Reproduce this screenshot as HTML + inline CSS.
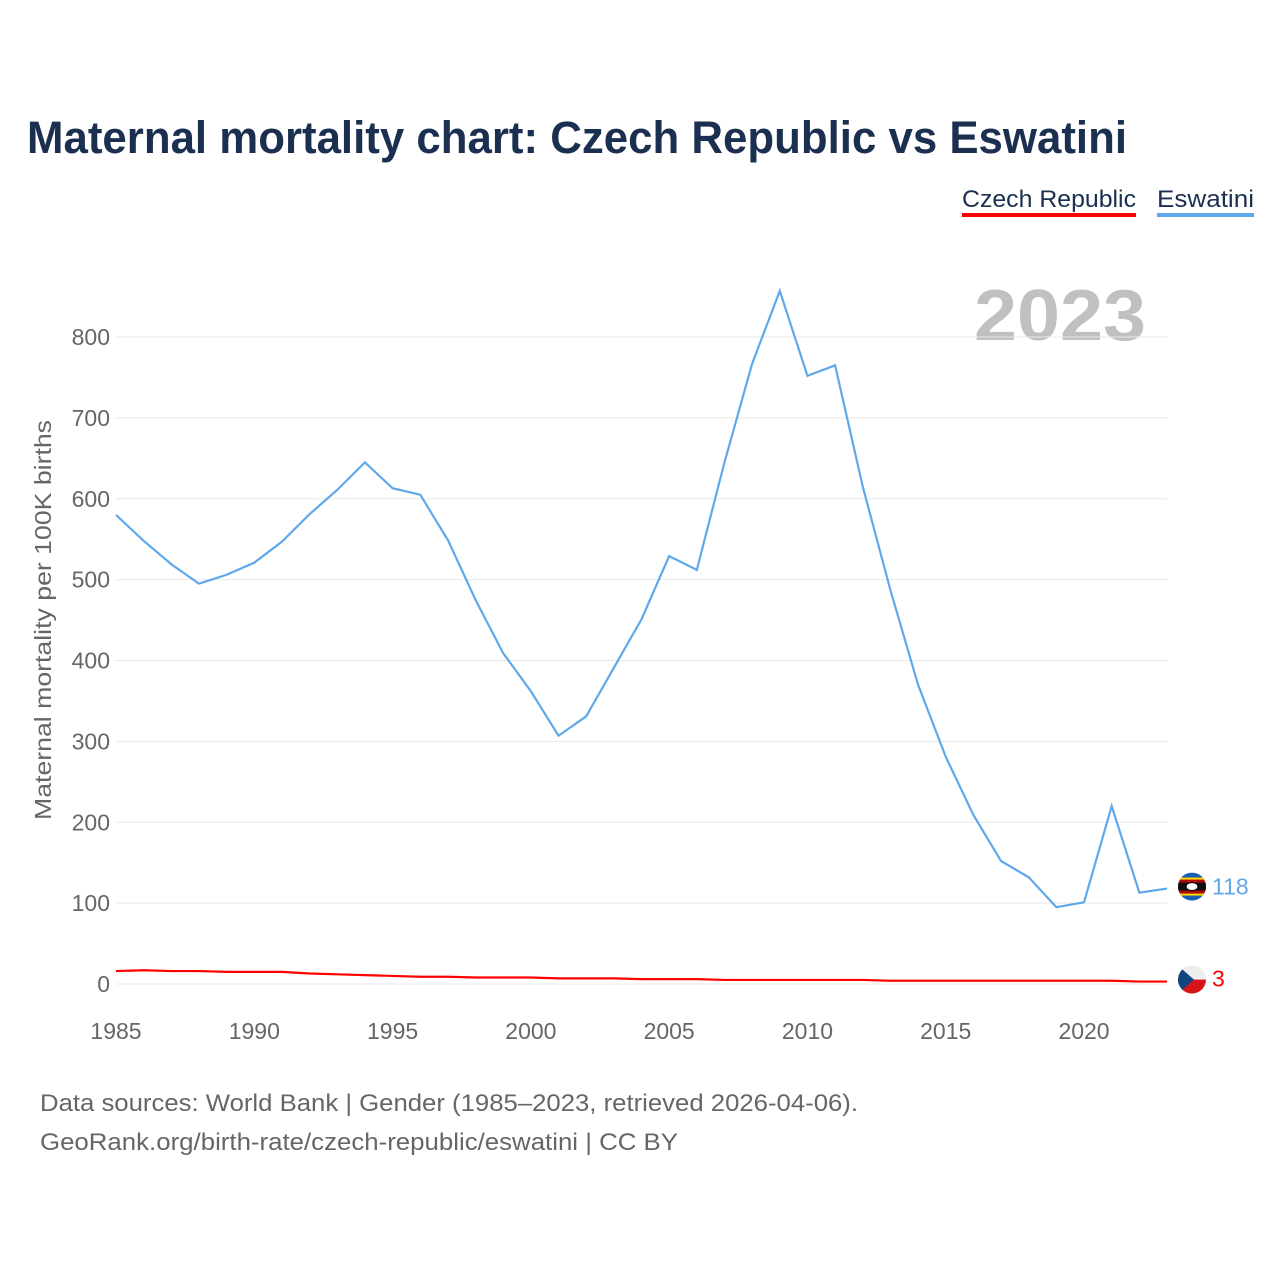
<!DOCTYPE html>
<html><head><meta charset="utf-8"><style>
body{margin:0;background:#fff;font-family:"Liberation Sans",sans-serif;}
#wrap{position:relative;width:1280px;height:1280px;overflow:hidden;}
</style></head><body>
<div id="wrap">
<svg id="chart" width="1280" height="1280">
<text x="27" y="153" font-size="45" font-weight="bold" fill="#1b3050" textLength="1100" lengthAdjust="spacingAndGlyphs">Maternal mortality chart: Czech Republic vs Eswatini</text>
<g><text x="962" y="207" font-size="24" fill="#1b3050" textLength="174" lengthAdjust="spacingAndGlyphs">Czech Republic</text><rect x="962" y="213" width="174" height="4" fill="#ff0000"/></g>
<g><text x="1157" y="207" font-size="24" fill="#1b3050" textLength="97" lengthAdjust="spacingAndGlyphs">Eswatini</text><rect x="1157" y="213" width="97" height="4" fill="#5fa8eb"/></g>
<text x="1146" y="340" font-size="72" font-weight="bold" fill="#c0c0c0" text-anchor="end" textLength="172" lengthAdjust="spacingAndGlyphs">2023</text>
<text transform="translate(51,620) rotate(-90)" font-size="23" fill="#666" text-anchor="middle" textLength="400" lengthAdjust="spacingAndGlyphs">Maternal mortality per 100K births</text>
<g id="grid"></g><g id="axes"></g><g id="series"></g>
<text x="40" y="1111" font-size="24" fill="#666" textLength="818" lengthAdjust="spacingAndGlyphs">Data sources: World Bank | Gender (1985–2023, retrieved 2026-04-06).</text>
<text x="40" y="1150" font-size="24" fill="#666" textLength="638" lengthAdjust="spacingAndGlyphs">GeoRank.org/birth-rate/czech-republic/eswatini | CC BY</text>
</svg></div>
<script>
const years=[];for(let y=1985;y<=2023;y++)years.push(y);
const eswatini=[580,548,519,495,506,521,547,581,611,645,613,605,549,475,409,362,307,331,391,451,529,512,645,767,857,752,765,615,487,370,281,209,152,132,95,101,220,113,118];
const czech=[16,17,16,16,15,15,15,13,12,11,10,9,9,8,8,8,7,7,7,6,6,6,5,5,5,5,5,5,4,4,4,4,4,4,4,4,4,3,3];
const yTicks=[0,100,200,300,400,500,600,700,800];
const xTicks=[1985,1990,1995,2000,2005,2010,2015,2020];
const NS="http://www.w3.org/2000/svg";
const X=y=>116+(y-1985)*(1167-116)/38;
const Y=v=>984-v*(984-337)/800;
function mk(t,a,p){const e=document.createElementNS(NS,t);for(const k in a)e.setAttribute(k,a[k]);p.appendChild(e);return e;}
const grid=document.getElementById('grid'),axes=document.getElementById('axes'),ser=document.getElementById('series');
yTicks.forEach(v=>{
 const l=mk('line',{x1:116,x2:1167,y1:Y(v),y2:Y(v),stroke:'#e8e8e8','stroke-width':1},grid);
 
 
 const t=mk('text',{x:110,y:Y(v)+8,'font-size':23,fill:'#666','text-anchor':'end'},axes);t.textContent=v;
 
 
});
xTicks.forEach(y=>{
 const t=mk('text',{x:X(y),y:1039,'font-size':23,fill:'#666','text-anchor':'middle'},axes);t.textContent=y;
 
 
});
function line(vals,color,name){
 const p=mk('polyline',{points:vals.map((v,i)=>X(years[i])+','+Y(v)).join(' '),fill:'none',stroke:color,'stroke-width':2.2},ser);
 
 
}
line(eswatini,'#5fa8eb','eswatini-line');
line(czech,'#ff0000','czech-line');
const lx=X(2023);
const ev=eswatini[eswatini.length-1],cv=czech[czech.length-1];
const fe=mk('g',{},ser);


const cy1=Y(ev)-2;
const cp1=mk('clipPath',{id:'c1'},fe);mk('circle',{cx:lx+25,cy:cy1,r:14},cp1);
const g1=mk('g',{'clip-path':'url(#c1)'},fe);
mk('rect',{x:lx+11,y:cy1-14,width:28,height:28,fill:'#1a5fb4'},g1);
mk('rect',{x:lx+11,y:cy1-9,width:28,height:18,fill:'#ffd900'},g1);
mk('rect',{x:lx+11,y:cy1-7,width:28,height:14,fill:'#b10c0c'},g1);
mk('rect',{x:lx+11,y:cy1-4,width:28,height:8,fill:'#111'},g1);
mk('ellipse',{cx:lx+25,cy:cy1,rx:6,ry:4,fill:'#fff',stroke:'#000'},g1);
const t1=mk('text',{x:lx+45,y:Y(ev)+6,'font-size':23,fill:'#5fa8eb'},ser);t1.textContent=ev;


const fc=mk('g',{},ser);


const cy2=Y(cv)-2;
const cp=mk('clipPath',{id:'c2'},fc);mk('circle',{cx:lx+25,cy:cy2,r:14},cp);
const g2=mk('g',{'clip-path':'url(#c2)'},fc);
mk('rect',{x:lx+11,y:cy2-14,width:28,height:14,fill:'#eee'},g2);
mk('rect',{x:lx+11,y:cy2,width:28,height:14,fill:'#d7141a'},g2);
mk('polygon',{points:`${lx+11},${cy2-14} ${lx+27},${cy2} ${lx+11},${cy2+14}`,fill:'#11457e'},g2);
const t2=mk('text',{x:lx+45,y:Y(cv)+5,'font-size':23,fill:'#ff0000'},ser);t2.textContent=cv;


</script>
</body></html>
